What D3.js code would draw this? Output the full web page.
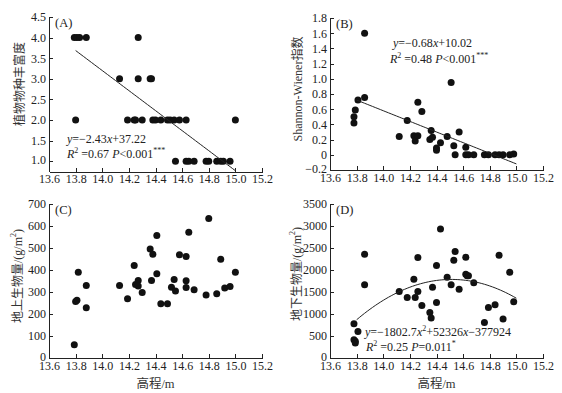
<!DOCTYPE html>
<html>
<head>
<meta charset="utf-8">
<script src="https://cdn.jsdelivr.net/npm/d3@7"></script>
<style>
  body { margin: 0; background: #fff; }
  svg { font-family: "Liberation Serif", "Noto Sans CJK SC", serif; }
</style>
</head>
<body>
<svg id="chart"></svg>
<script>
// elevation ticks shared by all panels
const xTicks = [13.6, 13.8, 14.0, 14.2, 14.4, 14.6, 14.8, 15.0, 15.2];

// (A) species richness
const richnessPts = [
  [13.79, 4], [13.81, 4], [13.83, 4], [13.88, 4], [14.27, 4],
  [14.13, 3], [14.27, 3], [14.36, 3], [14.37, 3],
  [13.80, 2], [14.19, 2], [14.24, 2], [14.25, 2], [14.30, 2], [14.38, 2], [14.40, 2],
  [14.44, 2], [14.49, 2], [14.51, 2], [14.54, 2], [14.58, 2], [14.63, 2], [15.00, 2],
  [14.55, 1], [14.63, 1], [14.65, 1], [14.69, 1], [14.78, 1], [14.80, 1], [14.86, 1],
  [14.89, 1], [14.91, 1], [14.96, 1]
];
const richnessTicks = [1.0, 1.5, 2.0, 2.5, 3.0, 3.5, 4.0, 4.5];
const richnessFit = [-2.43, 37.22];

// (B) Shannon-Wiener index
const shannonPts = [
  [13.78, 0.42], [13.78, 0.50], [13.79, 0.59], [13.81, 0.72], [13.86, 1.60], [13.86, 0.755],
  [14.12, 0.24], [14.18, 0.45], [14.23, 0.25], [14.24, 0.18], [14.26, 0.69], [14.26, 0.25],
  [14.29, 0.57], [14.35, 0.20], [14.36, 0.32], [14.37, 0.23], [14.40, 0.09], [14.40, 0.06],
  [14.43, 0.16], [14.48, 0.24], [14.51, 0.95], [14.53, 0.12], [14.54, 0], [14.57, 0.30],
  [14.62, 0.10], [14.62, 0], [14.64, 0], [14.68, 0], [14.76, 0], [14.79, 0], [14.84, 0],
  [14.87, 0], [14.90, 0], [14.95, 0], [14.98, 0.01]
];
const shannonTicks = [-0.2, 0, 0.2, 0.4, 0.6, 0.8, 1.0, 1.2, 1.4, 1.6, 1.8];
const shannonFit = [-0.70, 10.38];

// (C) aboveground biomass
const abovePts = [
  [13.79, 60], [13.80, 257], [13.81, 262], [13.82, 390], [13.88, 330], [13.88, 228],
  [14.13, 330], [14.19, 269], [14.24, 420], [14.25, 334], [14.27, 352], [14.27, 327],
  [14.30, 298], [14.36, 496], [14.37, 352], [14.38, 472], [14.41, 557], [14.41, 383],
  [14.44, 247], [14.49, 247], [14.52, 322], [14.54, 357], [14.55, 304], [14.58, 469],
  [14.63, 461], [14.63, 351], [14.63, 321], [14.65, 572], [14.69, 310], [14.78, 286],
  [14.80, 634], [14.86, 292], [14.89, 449], [14.92, 318], [14.96, 325], [15.00, 390]
];
const aboveTicks = [0, 100, 200, 300, 400, 500, 600, 700];

// (D) belowground biomass
const belowPts = [
  [13.78, 779], [13.78, 416], [13.79, 378], [13.79, 340], [13.81, 605], [13.86, 2358],
  [13.86, 1663], [14.12, 1512], [14.18, 1376], [14.23, 1791], [14.24, 1376], [14.26, 2283],
  [14.26, 1512], [14.29, 1194], [14.35, 1036], [14.36, 907], [14.37, 1610], [14.40, 2101],
  [14.40, 1262], [14.43, 2933], [14.48, 1837], [14.51, 1663], [14.53, 2222], [14.54, 2419],
  [14.57, 1565], [14.62, 2290], [14.62, 1905], [14.63, 1867], [14.64, 1867], [14.68, 1708],
  [14.76, 809], [14.79, 1149], [14.84, 1209], [14.87, 2336], [14.90, 884], [14.95, 1950],
  [14.98, 1277]
];
const belowTicks = [0, 500, 1000, 1500, 2000, 2500, 3000, 3500];
const belowFit = [-1802.7, 52326, -377924];

const svg = d3.select('#chart')
  .attr('width', 562)
  .attr('height', 393)
  .style('background', '#fff');

function panel(o) {
  const x = d3.scaleLinear().domain([13.6, 15.2]).range([o.left, o.right]);
  const y = d3.scaleLinear().domain(o.yDomain).range([o.bottom, o.top]);
  const g = svg.append('g');

  const yAxis = g.append('g')
    .attr('transform', `translate(${o.left},0)`)
    .call(d3.axisLeft(y).tickValues(o.yTicks).tickFormat(o.yFormat)
      .tickSizeInner(-4).tickSizeOuter(0).tickPadding(3));
  const xAxis = g.append('g')
    .attr('transform', `translate(0,${o.bottom})`)
    .call(d3.axisBottom(x).tickValues(xTicks).tickFormat(d3.format('.1f'))
      .tickSizeInner(-4).tickSizeOuter(0).tickPadding(3));
  [yAxis, xAxis].forEach(a => {
    a.selectAll('text').style('font-family', '"Liberation Serif", serif')
      .style('font-size', '12px').attr('fill', '#222');
    a.selectAll('path, line').attr('stroke', '#222').attr('shape-rendering', 'crispEdges');
  });
  // lowest y label sits a little above the x axis, as in the original
  yAxis.selectAll('.tick text').filter(d => d === o.yTicks[0]).attr('dy', '0.2em');

  g.append('text')
    .attr('x', o.left + 6).attr('y', o.top + 10)
    .style('font-size', '12.5px').attr('fill', '#222')
    .text(o.tag);

  g.selectAll('circle.dot')
    .data(o.pts)
    .enter().append('circle')
    .attr('class', 'dot')
    .attr('cx', d => x(d[0]))
    .attr('cy', d => y(d[1]))
    .attr('r', 3.5)
    .attr('fill', '#111');

  if (o.fit) {
    const xs = d3.range(13.8, 15.0001, 0.02);
    g.append('path')
      .datum(xs)
      .attr('fill', 'none')
      .attr('stroke', '#222')
      .attr('stroke-width', 1)
      .attr('d', d3.line().x(d => x(d)).y(d => y(o.fit(d))));
  }

  g.append('text')
    .attr('transform', `translate(${o.ylabX},${o.ylabY}) rotate(-90)`)
    .attr('text-anchor', 'middle')
    .attr('dominant-baseline', 'central')
    .style('font-size', '12px').attr('fill', '#333')
    .html(o.ylab);

  if (o.xlab) {
    g.append('text')
      .attr('x', (o.left + o.right) / 2).attr('y', 388)
      .attr('text-anchor', 'middle')
      .style('font-size', '12.5px').attr('fill', '#333')
      .text('高程/m');
  }

  if (o.eq) {
    o.eq.forEach((line, i) => {
      g.append('text')
        .attr('x', o.eqX[i]).attr('y', o.eqY[i])
        .style('font-size', '12px').attr('fill', '#222')
        .html(line);
    });
  }
  return g;
}

const f1 = d3.format('.1f');

panel({
  tag: '(A)', left: 49, right: 262, top: 17, bottom: 171.5,
  yDomain: [0.75, 4.5], yTicks: richnessTicks, yFormat: f1,
  pts: richnessPts, fit: v => richnessFit[0] * v + richnessFit[1],
  ylab: '植物物种丰富度', ylabX: 20, ylabY: 84,
  eq: ['<tspan font-style="italic">y</tspan>=−2.43<tspan font-style="italic">x</tspan>+37.22',
       '<tspan font-style="italic">R</tspan><tspan dy="-5" font-size="8px">2</tspan><tspan dy="5"> =0.67 </tspan><tspan font-style="italic">P</tspan>&lt;0.001<tspan dy="-5" font-size="8px">***</tspan>'],
  eqX: [67, 67], eqY: [143, 158]
});

panel({
  tag: '(B)', left: 330, right: 543, top: 18, bottom: 170,
  yDomain: [-0.2, 1.8], yTicks: shannonTicks, yFormat: d => d === 0 ? '0' : f1(d),
  pts: shannonPts, fit: v => shannonFit[0] * v + shannonFit[1],
  ylab: 'Shannon-Wiener指数', ylabX: 298, ylabY: 89,
  eq: ['<tspan font-style="italic">y</tspan>=−0.68<tspan font-style="italic">x</tspan>+10.02',
       '<tspan font-style="italic">R</tspan><tspan dy="-5" font-size="8px">2</tspan><tspan dy="5"> =0.48 </tspan><tspan font-style="italic">P</tspan>&lt;0.001<tspan dy="-5" font-size="8px">***</tspan>'],
  eqX: [393, 390], eqY: [47, 63]
});

panel({
  tag: '(C)', left: 49, right: 262, top: 204, bottom: 358,
  yDomain: [0, 700], yTicks: aboveTicks, yFormat: d3.format('d'),
  pts: abovePts, fit: null, xlab: true,
  ylab: '地上生物量/(g/m<tspan dy="-5" font-size="8px">2</tspan><tspan dy="5">)</tspan>', ylabX: 18, ylabY: 276
});

panel({
  tag: '(D)', left: 330, right: 543, top: 204, bottom: 358,
  yDomain: [0, 3500], yTicks: belowTicks, yFormat: d3.format('d'),
  pts: belowPts, fit: v => belowFit[0] * v * v + belowFit[1] * v + belowFit[2], xlab: true,
  ylab: '地下生物量/(g/m<tspan dy="-5" font-size="8px">2</tspan><tspan dy="5">)</tspan>', ylabX: 297, ylabY: 274,
  eq: ['<tspan font-style="italic">y</tspan>=−1802.7<tspan font-style="italic">x</tspan><tspan dy="-5" font-size="8px">2</tspan><tspan dy="5">+52326</tspan><tspan font-style="italic">x</tspan>−377924',
       '<tspan font-style="italic">R</tspan><tspan dy="-5" font-size="8px">2</tspan><tspan dy="5"> =0.25 </tspan><tspan font-style="italic">P</tspan>=0.011<tspan dy="-5" font-size="8px">*</tspan>'],
  eqX: [365, 366], eqY: [336, 351]
});
</script>
</body>
</html>
